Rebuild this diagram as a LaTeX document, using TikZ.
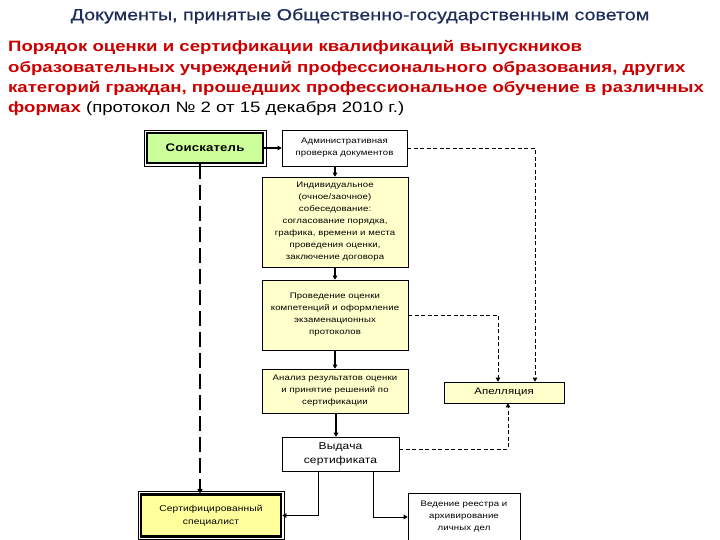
\documentclass[tikz,border=0pt]{standalone}
\usepackage{fontspec}
\setmainfont[FakeStretch=1.2]{Liberation Sans}
\newfontfamily\titlefont[FakeStretch=1.23, FakeBold=0.6]{Liberation Sans}
\newfontfamily\redfont[FakeStretch=1.24]{Liberation Sans}
\newfontfamily\boxfont[FakeStretch=1.2, LetterSpace=1.5]{Liberation Sans}
\usetikzlibrary{arrows.meta,calc}
\definecolor{navy}{HTML}{1F2D5A}
\definecolor{hred}{HTML}{CC0000}
\definecolor{boxyellow}{HTML}{FFFFCC}
\definecolor{certyellow}{HTML}{FFFF9C}
\definecolor{soiskgreen}{HTML}{CCFF99}
\begin{document}
\begin{tikzpicture}[x=1pt,y=-1pt,
  box/.style={draw=black, line width=0.6pt, align=center, inner sep=1pt,
    font=\boxfont\fontsize{8}{12}\selectfont},
  ybox/.style={box, fill=boxyellow},
  framed/.style={draw=black, line width=2.6pt, align=center, inner sep=0pt},
  arr/.style={-{Triangle[length=4pt,width=4.5pt]}, line width=1.3pt},
  plain/.style={line width=0.7pt},
  parr/.style={plain, -{Triangle[length=4pt,width=4.5pt]}},
  dsh/.style={dash pattern=on 4pt off 2.5pt, line width=0.8pt,
    -{Triangle[length=4pt,width=4.5pt]}},
  bigdsh/.style={dash pattern=on 15pt off 6pt, line width=2.6pt,
    -{Triangle[length=4pt,width=5pt]}},
  outer/.style={line width=0.6pt},
  redline/.style={anchor=west, inner sep=0pt, text=hred,
    font=\redfont\bfseries\fontsize{15}{18}\selectfont},
]
\useasboundingbox (0,0) rectangle (720,540);
\fill[white] (0,0) rectangle (720,540);

% headings
\node[inner sep=0pt, text=navy, font=\titlefont\fontsize{16}{19}\selectfont] (title) at (360,16)
  {Документы, принятые Общественно-государственным советом};
\node[redline] (r1) at (8,47) {Порядок оценки и сертификации квалификаций выпускников};
\node[redline] (r2) at (8,68) {образовательных учреждений профессионального образования, других};
\node[redline] (r3) at (8,88) {категорий граждан, прошедших профессиональное обучение в различных};
\node[redline] (r4) at (8,109) {формах \mdseries\color{black}(протокол № 2 от 15 декабря 2010 г.)};

% nodes
\node[framed, fill=soiskgreen, minimum width=116, minimum height=30,
  font=\boxfont\bfseries\fontsize{11}{13}\selectfont] (soisk) at (205,148) {Соискатель};
\draw[outer] ([shift={(-1.8,1.8)}]soisk.south west) rectangle ([shift={(1.8,-1.8)}]soisk.north east);
\node[box, fill=white, minimum width=125, minimum height=36] (admin) at (344.5,148)
  {Административная\\проверка документов};
\node[ybox, minimum width=146, minimum height=90] (indiv) at (335,222)
  {Индивидуальное\\(очное/заочное)\\собеседование:\\согласование порядка,\\графика, времени и места\\проведения оценки,\\заключение договора};
\node[ybox, minimum width=146, minimum height=70] (prov) at (335,315)
  {Проведение оценки\\компетенций и оформление\\экзаменационных\\протоколов};
\node[ybox, minimum width=146, minimum height=44] (anal) at (335,391)
  {Анализ результатов оценки\\и принятие решений по\\сертификации};
\node[ybox, minimum width=120, minimum height=21, font=\boxfont\fontsize{9.5}{11}\selectfont] (apel) at (504,392.5)
  {Апелляция};
\node[box, fill=white, minimum width=117, minimum height=34, font=\boxfont\fontsize{10}{13.5}\selectfont] (vyd) at (340.5,454)
  {Выдача\\сертификата};
\node[framed, fill=certyellow, minimum width=140, minimum height=42,
  font=\boxfont\fontsize{8.5}{13}\selectfont] (cert) at (211,515.5)
  {Сертифицированный\\специалист};
\draw[outer] ([shift={(-1.8,1.8)}]cert.south west) rectangle ([shift={(1.8,-1.8)}]cert.north east);
\node[box, fill=white, minimum width=112, minimum height=48] (ved) at (464,517)
  {Ведение реестра и\\архивирование\\личных дел};

% connectors
\draw[arr] (soisk) -- (admin);
\draw[arr] (admin.south -| indiv.north) -- (indiv.north);
\draw[arr] (indiv) -- (prov);
\draw[arr] (prov) -- (anal);
\draw[arr] (anal.south -| 336,0) -- (vyd.north -| 336,0);
\draw[bigdsh] (soisk.south -| 200,0) -- (cert.north -| 200,0);
\draw[parr] (vyd.south -| 318,0) |- (cert.east);
\draw[parr] (vyd.south -| 373,0) |- (ved.west);
\draw[dsh] (admin.east) -| ([xshift=31pt]apel.north);
\draw[dsh] (prov.east) -| ([xshift=-6pt]apel.north);
\draw[dsh] ([yshift=5pt]vyd.east) -| ([xshift=4pt]apel.south);
\end{tikzpicture}
\end{document}
